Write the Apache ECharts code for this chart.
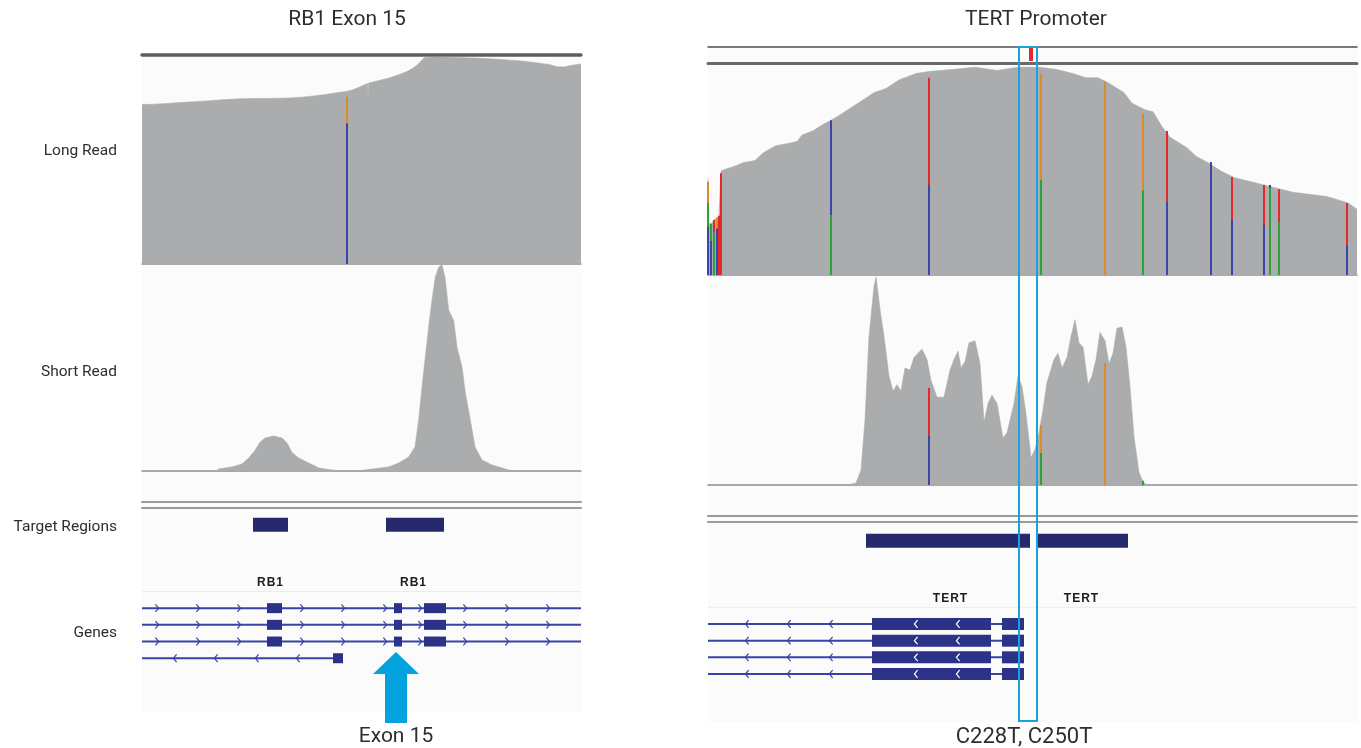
<!DOCTYPE html>
<html>
<head>
<meta charset="utf-8">
<title>RB1 Exon 15 / TERT Promoter coverage</title>
<script src="https://cdn.jsdelivr.net/npm/echarts@6.0.0/dist/echarts.min.js"></script>
<style>
html,body{margin:0;padding:0;background:#ffffff;}
#chart{width:1361px;height:748px;}
</style>
</head>
<body>
<div id="chart"></div>
<script>
// ================= DATA =================
// Positions are bp offsets from the start of each viewing window; depths are % of track maximum.
const rb1Window = [0, 439];
const rb1LongCoverage = [[0,77],[12,77.2],[25,77.5],[38,78],[52,78.4],[66,78.8],[80,79.3],[98,79.8],[115,80],[130,80],[148,80.2],[160,80.6],[172,81.2],[185,82],[198,83],[204,83.3],[210,84],[216,85.2],[222,86.5],[225.5,87.2],[226,80.8],[226.6,87.4],[232,88],[240,89],[248,90],[256,91.3],[265,93],[270,94.3],[275,96],[279,98],[282,99.6],[290,100],[300,100],[315,99.7],[331,99.5],[348,99.1],[365,98.6],[382,98],[398,97],[408,96.3],[415,95.3],[422,95.2],[430,96],[439,96.6]];
const rb1LongAlleles = [[205,0,68,'C'],[205,68,80.7,'G']];
const rb1ShortCoverage = [[74,0],[76.7,1],[90,2],[100,3.4],[106.7,6.3],[113,10],[118,14],[123,16],[131.7,17],[140,16],[145,13.6],[150,9],[156.7,6.3],[166.7,3.9],[176.7,1.5],[190,0.5],[200,0],[215,0],[228,0.8],[246.7,2],[256.7,3.9],[266.7,6.8],[273,11.7],[276.7,24.8],[280,40.8],[283,53.9],[286.7,70],[290,83],[293.3,94],[296.7,99],[300,100],[303,94],[306.7,78],[311.7,73],[315,60],[320,50.5],[323.3,38],[328.3,24.8],[333,11.7],[340,5.3],[350,2.9],[360,1.5],[370,0]];
const rb1Targets = [[111,146],[244,302]];
const rb1GeneLabels = [[128,'RB1'],[271,'RB1']];
const rb1TxRows = [6,7,8,9];
const rb1TxSpans = [[0,439],[0,439],[0,439],[0,191]];
const rb1TxStrands = [1,1,1,-1];
const rb1TxExons = [[[125,140],[252,260],[282,304]],[[125,140],[252,260],[282,304]],[[125,140],[252,260],[282,304]],[[191,201]]];
const rb1TxArrows = [[15,56,97,160,201,243,278,323,365,406],[15,56,97,160,201,243,278,323,365,406],[15,56,97,160,201,243,278,323,365,406],[33,74,115,156]];
const rb1Exon15Pointer = [[254,8.63,12.88]];

const tertWindow = [0, 649];
const tertLongCoverage = [[0,46],[1,24],[4,24.5],[6,26],[9,27],[11,28],[12.5,28],[13,49],[18,50],[25,51],[35,53],[47,54],[55,57.5],[60,59],[68,61],[80,62],[89,63],[94,66],[105,68],[115,71],[123,73],[132,75.5],[140,78],[153,82],[166,86],[178,88],[191,92],[208,95],[221,96],[246,97],[267,98],[289,96.5],[310,98],[331,98],[348,97],[365,95],[378,93],[390,93],[399,91],[416,86],[424,81],[437,78],[445,77],[454,70],[462,65],[479,60],[488,56],[500,53],[513,49],[526,46],[543,44],[564,41.5],[585,39],[619,37],[640,34],[649,31]];
const tertLongAlleles = [[0,0,22.6,'C'],[0,22.6,34,'A'],[0,34,44,'G'],[3,0,16,'C'],[3,16,24,'A'],[6,0,20,'A'],[6,20,26,'T'],[9,0,22,'C'],[9,22,27,'G'],[11,0,28,'T'],[13,0,48,'T'],[123,0,28.3,'A'],[123,28.3,73,'C'],[221,0,42.5,'C'],[221,42.5,93,'T'],[333,0,44.8,'A'],[333,44.8,95,'G'],[397,0,91,'G'],[435,0,40,'A'],[435,40,76,'G'],[459,0,34.4,'C'],[459,34.4,67.9,'T'],[503,0,53.3,'C'],[524,0,25.9,'C'],[524,25.9,46.2,'T'],[556,0,23.6,'C'],[556,23.6,42.5,'T'],[562,0,41,'A'],[562,41,42.5,'C'],[571,0,25,'A'],[571,25,40.5,'T'],[639,0,14,'C'],[639,14,34,'T']];
const tertShortCoverage = [[140,0],[148,1],[153,7],[157,31],[161,71],[166,95],[168,99.5],[172,84],[176,71],[181,52],[185,45],[189,48],[193,45],[197,56],[202,55],[206,61],[210,63],[214,65],[219,60],[223,50],[229,42],[236,42],[242,55],[246,60],[250,64],[253,56],[257,59],[261,68],[267,69],[272,58],[276,30],[280,39],[284,43],[289,39],[295,22.5],[299,25],[306,39],[310,52],[314,47],[318,34],[323,13],[327,17],[331,25],[335,36],[339,49],[346,60],[350,63],[354,56],[359,61],[363,71],[367,79],[371,68],[375,66],[380,48],[384,52],[388,60],[392,73],[397,69],[401,58],[405,63],[409,75],[414,75.6],[418,66],[422,47],[426,23],[431,6],[435,1.4],[439,0]];
const tertShortAlleles = [[221,0,24,'C'],[221,24,46.4,'T'],[333,0,15.3,'A'],[333,15.3,28.7,'G'],[397,0,58.4,'G'],[435,0,2,'A']];
const tertTargets = [[158,322],[328,420]];
const tertGeneLabels = [[242,'TERT'],[373,'TERT']];
const tertTxRows = [6,7,8,9];
const tertTxSpans = [[0,316],[0,316],[0,316],[0,316]];
const tertTxStrands = [-1,-1,-1,-1];
const tertTxExons = [[[164,283],[294,316]],[[164,283],[294,316]],[[164,283],[294,316]],[[164,283],[294,316]]];
const tertTxArrows = [[39,81,123,208,250],[39,81,123,208,250],[39,81,123,208,250],[39,81,123,208,250]];
const tertVariantSites = [[323]];
const tertHotspot = [[311,329]];

const labelRow = 4.5, targetRow = 1, dividerRow = 5;

// ================= STYLE =================
const BASE_COLORS = {A:'#2fa13a', C:'#3c46a6', G:'#dc8a2c', T:'#e5282c'};
const COVER = '#aaacad';
const GENE_LINE = '#3a42a6';
const GENE_BOX = '#2b3287';
const TARGET = '#262a6c';
const HILITE = '#17a4dd';
const TXT = '#2e2e2e';

function alleleRenderer(src) {
  return function (params, api) {
    const x = api.value(0);
    const p0 = api.coord([x, api.value(1)]);
    const p1 = api.coord([x, api.value(2)]);
    return {type:'rect', shape:{x:p0[0]-1, y:p1[1], width:2, height:p0[1]-p1[1]},
            style:{fill: BASE_COLORS[src[params.dataIndex][3]]}};
  };
}
function targetRenderer(params, api) {
  const a = api.coord([api.value(0), targetRow]);
  const b = api.coord([api.value(1), targetRow]);
  return {type:'rect', shape:{x:a[0], y:a[1]-7, width:b[0]-a[0], height:14}, style:{fill:TARGET}};
}
function labelRenderer(src) {
  return function (params, api) {
    const p = api.coord([api.value(0), labelRow]);
    const txt = src[params.dataIndex][1].split('').join('\u200A');
    return {type:'text', x:p[0], y:p[1], style:{text:txt, fill:'#1c1c1c',
      font:'bold 12px "Liberation Sans", Arial, sans-serif', align:'center', verticalAlign:'middle'}};
  };
}
function dividerRenderer(params, api) {
  const y = api.coord([0, api.value(0)])[1];
  const cs = params.coordSys;
  return {type:'line', shape:{x1:cs.x, y1:y, x2:cs.x+cs.width, y2:y}, style:{stroke:'#ececec', lineWidth:1}};
}
function txRenderer(exons, arrows, strands, exonH) {
  return function (params, api) {
    const i = params.dataIndex;
    const row = api.value(0);
    const a = api.coord([api.value(1), row]);
    const b = api.coord([api.value(2), row]);
    const y = a[1];
    const children = [{type:'line', shape:{x1:a[0], y1:y, x2:b[0], y2:y}, style:{stroke:GENE_LINE, lineWidth:2}}];
    exons[i].forEach(function (ex) {
      const p = api.coord([ex[0], row]), q = api.coord([ex[1], row]);
      children.push({type:'rect', shape:{x:p[0], y:y-exonH/2, width:q[0]-p[0], height:exonH}, style:{fill:GENE_BOX}});
    });
    const d = strands[i];
    arrows[i].forEach(function (pos) {
      const p = api.coord([pos, row]);
      const inside = exons[i].some(function (ex) { return pos > ex[0] && pos < ex[1]; });
      children.push({type:'polyline', shape:{points:[[p[0]-1.6*d, y-3.8],[p[0]+1.6*d, y],[p[0]-1.6*d, y+3.8]]},
        style:{stroke: inside ? '#ffffff' : GENE_LINE, lineWidth:1.2, fill:'none'}});
    });
    return {type:'group', children:children};
  };
}
function pointerRenderer(params, api) {
  const tip = api.coord([api.value(0), api.value(1)]);
  const end = api.coord([api.value(0), api.value(2)]);
  const x = tip[0], headH = 22, headW = 23, shaftW = 11;
  return {type:'polygon', shape:{points:[[x, tip[1]],[x+headW, tip[1]+headH],[x+shaftW, tip[1]+headH],[x+shaftW, end[1]],
    [x-shaftW, end[1]],[x-shaftW, tip[1]+headH],[x-headW, tip[1]+headH]]}, style:{fill:'#04a3e0'}};
}
function hotspotRenderer(params, api) {
  const cs = params.coordSys;
  const a = api.coord([api.value(0), 0]), b = api.coord([api.value(1), 0]);
  return {type:'rect', shape:{x:a[0], y:cs.y+1, width:b[0]-a[0], height:cs.height-2}, style:{fill:'none', stroke:HILITE, lineWidth:2}};
}
function variantRenderer(params, api) {
  const cs = params.coordSys;
  const a = api.coord([api.value(0), 0]);
  return {type:'rect', shape:{x:a[0]-2, y:cs.y, width:4, height:cs.height}, style:{fill:'#e8262c'}};
}

// ================= LAYOUT =================
const L = {left:142, width:439}, R = {left:708, width:649};
const grids = [
  {left:L.left, width:L.width, top:57, height:655, show:true, backgroundColor:'#fbfbfb', borderWidth:0}, // 0 L backdrop
  {left:L.left, width:L.width, top:57, height:207}, // 1 L long
  {left:L.left, width:L.width, top:265, height:206}, // 2 L short
  {left:L.left, width:L.width, top:508, height:217}, // 3 L annotation
  {left:R.left, width:R.width, top:46, height:676, show:true, backgroundColor:'#fbfbfb', borderWidth:0}, // 4 R backdrop/overlay
  {left:R.left, width:R.width, top:48, height:13}, // 5 R variants
  {left:R.left, width:R.width, top:63, height:212}, // 6 R long
  {left:R.left, width:R.width, top:276, height:209}, // 7 R short
  {left:R.left, width:R.width, top:524, height:200} // 8 R annotation
];
grids.forEach(function (g) { if (!g.show) { g.show = false; } g.containLabel = false; });

function hiddenX(gi, win) { return {type:'value', gridIndex:gi, min:win[0], max:win[1], show:false}; }
function lineX(gi, win, position, offset, color, width) {
  return {type:'value', gridIndex:gi, min:win[0], max:win[1], show:true, position:position, offset:offset,
    axisLine:{show:true, onZero:false, lineStyle:{color:color, width:width}},
    axisTick:{show:false}, axisLabel:{show:false}, splitLine:{show:false}};
}
function hiddenY(gi, max, inverse) { return {type:'value', gridIndex:gi, min:0, max:max, inverse:!!inverse, show:false}; }

const xAxes = [
  hiddenX(0, rb1Window),                                   // 0
  lineX(1, rb1Window, 'bottom', 0, '#8f8f8f', 1.5),        // 1 L long (series)
  lineX(1, rb1Window, 'top', 2, '#5e5e5e', 3.5),           // 2 L long top bar
  lineX(2, rb1Window, 'bottom', 0, '#8f8f8f', 1.5),        // 3 L short (series)
  lineX(3, rb1Window, 'top', 0.5, '#9a9a9a', 2),           // 4 L annotation (series)
  lineX(3, rb1Window, 'top', 6.5, '#9a9a9a', 2),           // 5
  hiddenX(4, tertWindow),                                  // 6 R overlay (series)
  lineX(5, tertWindow, 'top', 1, '#4f4f4f', 1.5),          // 7 R variants (series)
  lineX(5, tertWindow, 'bottom', 2, '#6a6a6a', 3),         // 8
  lineX(6, tertWindow, 'bottom', 0, '#8f8f8f', 1.5),       // 9 R long (series)
  lineX(7, tertWindow, 'bottom', 0, '#8f8f8f', 1.5),       // 10 R short (series)
  lineX(8, tertWindow, 'top', 2.5, '#9a9a9a', 2),          // 11 R annotation (series)
  lineX(8, tertWindow, 'top', 8.5, '#9a9a9a', 2)           // 12
];
const yAxes = [
  hiddenY(0, 1),        // 0
  hiddenY(1, 100),      // 1
  hiddenY(2, 100),      // 2
  hiddenY(3, 13, true), // 3
  hiddenY(4, 1),        // 4
  hiddenY(5, 1),        // 5
  hiddenY(6, 100),      // 6
  hiddenY(7, 100),      // 7
  hiddenY(8, 12, true)  // 8
];

function coverageSeries(name, data, xi, yi) {
  return {name:name, type:'line', xAxisIndex:xi, yAxisIndex:yi, data:data, symbol:'none', showSymbol:false,
    lineStyle:{width:0.6, color:COVER}, areaStyle:{color:COVER, opacity:1}, silent:true, z:2};
}
function customSeries(name, xi, yi, data, renderItem, z) {
  return {name:name, type:'custom', xAxisIndex:xi, yAxisIndex:yi, data:data, renderItem:renderItem, silent:true, clip:false, z:z||3};
}
const nums3 = function (arr) { return arr.map(function (d) { return [d[0], d[1], d[2]]; }); };
const txData = function (rows, spans) { return rows.map(function (r, i) { return [r, spans[i][0], spans[i][1]]; }); };

const series = [
  coverageSeries('RB1 long read', rb1LongCoverage, 1, 1),
  customSeries('RB1 long alleles', 1, 1, nums3(rb1LongAlleles), alleleRenderer(rb1LongAlleles)),
  coverageSeries('RB1 short read', rb1ShortCoverage, 3, 2),
  customSeries('RB1 targets', 4, 3, rb1Targets, targetRenderer),
  customSeries('RB1 divider', 4, 3, [[dividerRow]], dividerRenderer, 2),
  customSeries('RB1 labels', 4, 3, rb1GeneLabels.map(function (l) { return [l[0]]; }), labelRenderer(rb1GeneLabels)),
  customSeries('RB1 transcripts', 4, 3, txData(rb1TxRows, rb1TxSpans), txRenderer(rb1TxExons, rb1TxArrows, rb1TxStrands, 10)),
  customSeries('Exon 15 pointer', 4, 3, rb1Exon15Pointer, pointerRenderer, 6),

  customSeries('TERT variants', 7, 5, tertVariantSites, variantRenderer),
  coverageSeries('TERT long read', tertLongCoverage, 9, 6),
  customSeries('TERT long alleles', 9, 6, nums3(tertLongAlleles), alleleRenderer(tertLongAlleles)),
  coverageSeries('TERT short read', tertShortCoverage, 10, 7),
  customSeries('TERT short alleles', 10, 7, nums3(tertShortAlleles), alleleRenderer(tertShortAlleles)),
  customSeries('TERT targets', 11, 8, tertTargets, targetRenderer),
  customSeries('TERT divider', 11, 8, [[dividerRow]], dividerRenderer, 2),
  customSeries('TERT labels', 11, 8, tertGeneLabels.map(function (l) { return [l[0]]; }), labelRenderer(tertGeneLabels)),
  customSeries('TERT transcripts', 11, 8, txData(tertTxRows, tertTxSpans), txRenderer(tertTxExons, tertTxArrows, tertTxStrands, 12)),
  customSeries('C228T/C250T hotspot', 6, 4, tertHotspot, hotspotRenderer, 10)
];

function t(text, x, y, size, align) {
  return {text:text, left:x, top:y, textAlign:align||'center', textVerticalAlign:'middle', padding:0,
    textStyle:{fontFamily:'Roboto, "Noto Sans", sans-serif', fontWeight:'normal', fontSize:size, color:TXT}};
}
const titles = [
  t('RB1 Exon 15', 347, 20, 21),
  t('TERT Promoter', 1036, 20, 21),
  t('Long Read', 117, 151, 15.5, 'right'),
  t('Short Read', 117, 372, 15.5, 'right'),
  t('Target Regions', 117, 527, 15.5, 'right'),
  t('Genes', 117, 633, 15.5, 'right'),
  t('Exon 15', 396, 737, 21),
  t('C228T, C250T', 1024, 737, 22)
];

const chart = echarts.init(document.getElementById('chart'), null, {renderer:'canvas'});
chart.setOption({
  backgroundColor:'#ffffff',
  animation:false,
  title:titles,
  grid:grids,
  xAxis:xAxes,
  yAxis:yAxes,
  tooltip:{show:false},
  series:series
});
</script>
</body>
</html>
